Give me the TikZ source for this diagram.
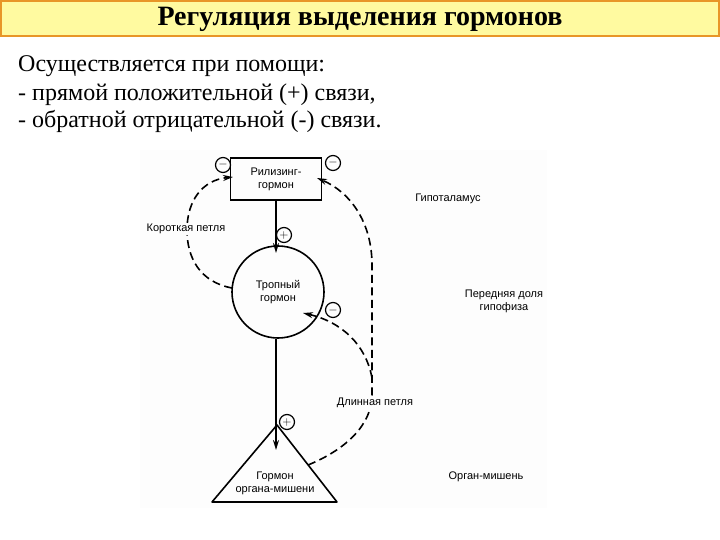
\documentclass[tikz,border=0pt]{standalone}
\usepackage{fontspec}
\setmainfont{Liberation Serif}
\newfontfamily\diagfont{Liberation Sans}
\usetikzlibrary{arrows.meta}
\definecolor{titlefill}{RGB}{255,250,160}
\definecolor{titleline}{RGB}{232,150,40}
\definecolor{diagbg}{RGB}{253,253,253}
\begin{document}
\begin{tikzpicture}[x=1pt,y=-1pt,
  lbl/.style={font=\diagfont\fontsize{11}{13}\selectfont, align=center, inner sep=1pt},
  sign/.style={circle, draw, line width=1.2pt, minimum size=15pt, inner sep=0pt, font=\diagfont\fontsize{12}{12}\selectfont},
  solidline/.style={line width=1.6pt},
  solidarrow/.style={line width=1.6pt, -{Stealth[length=10pt,width=6pt]}},
  dashline/.style={line width=1.6pt, dash pattern=on 8pt off 4.5pt},
  dasharrow/.style={dashline, -{Stealth[length=10pt,width=6pt]}},
  bodytext/.style={anchor=base west, inner sep=0pt, font=\fontsize{24}{28}\selectfont},
]
\useasboundingbox (0,0) rectangle (720,540);
% title bar
\draw[fill=titlefill, draw=titleline, line width=2pt] (1,1) rectangle (719,36);
\node[font=\bfseries\fontsize{28}{30}\selectfont, inner sep=0pt] (title) at (360,19) {Регуляция выделения гормонов};
% body text
\node[bodytext] (l1) at (18,72) {Осуществляется при помощи:};
\node[bodytext] (l2) at (18,101) {- прямой положительной (+) связи,};
\node[bodytext] (l3) at (18,128) {- обратной отрицательной (-) связи.};
% diagram background
\fill[diagbg] (140,150) rectangle (547,508);
% main elements
\node[draw, solidline, minimum width=91pt, minimum height=42pt, lbl] (rh) at (276,179) {Рилизинг-\\гормон};
\node[draw, solidline, circle, minimum size=92pt, inner sep=0pt, lbl] (tg) at (278,292) {Тропный\\гормон};
\coordinate (ta) at (277,425);
\coordinate (tl) at (212,502);
\coordinate (tr) at (337,502);
\draw[solidline, line join=round] (ta) -- (tl) -- (tr) -- cycle;
\node[lbl] (tt) at (275,483) {Гормон\\органа-мишени};
% signs
\node[sign] (m1) at (223,165) {$-$};
\node[sign] (m2) at (333,163) {$-$};
\node[sign] (p1) at (284,235) {$+$};
\node[sign] (m3) at (333,310) {$-$};
\node[sign] (p2) at (287,422) {$+$};
% solid arrows
\coordinate (a1) at (276,253);
\coordinate (a2) at (276,450);
\draw[solidarrow] (rh.south -| a1) -- (a1);
\draw[solidarrow] (tg.south -| a2) -- (a2);
% short loop
\coordinate (s0) at (232,288);
\coordinate (s1) at (233,177);
\draw[dasharrow] (s0) .. controls (200,282) and (187,258) .. (187,230) .. controls (187,200) and (203,180) .. (s1);
% long loop
\coordinate (d0) at (308,465);
\coordinate (d1) at (372,395);
\coordinate (d2) at (372,265);
\coordinate (d3) at (317,178);
\coordinate (b0) at (372,378);
\coordinate (b1) at (303,313);
\draw[dasharrow] (d0) .. controls (345,450) and (372,425) .. (d1) -- (d2) .. controls (372,222) and (350,192) .. (d3);
\draw[dasharrow] (b0) .. controls (366,345) and (342,322) .. (b1);
% labels
\node[lbl, fill=diagbg] (kp) at (186,229) {Короткая петля};
\node[lbl, fill=diagbg] (dp) at (375,403) {Длинная петля};
\node[lbl] (hyp) at (448,199) {Гипоталамус};
\node[lbl, align=center] (pit) at (504,301) {Передняя доля\\гипофиза};
\node[lbl] (org) at (486,477) {Орган-мишень};
\end{tikzpicture}
\end{document}
